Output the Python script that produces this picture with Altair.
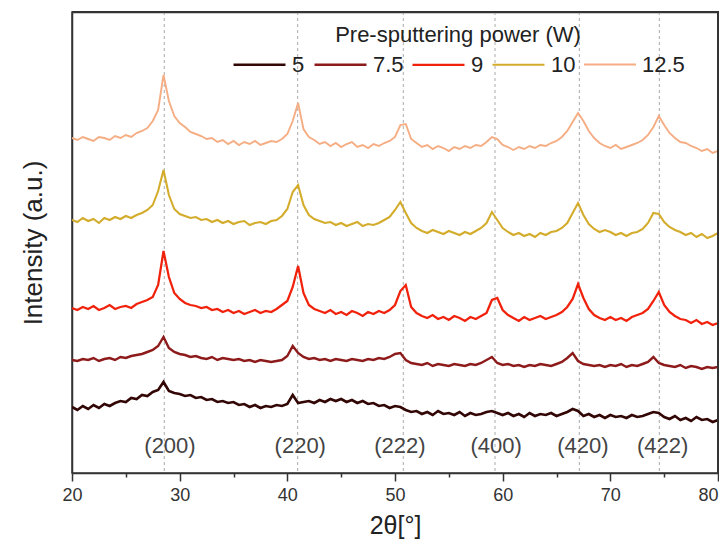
import altair as alt
import pandas as pd

# 2-theta sampling grid (degrees)
two_theta = [round(20 + 0.5 * i, 1) for i in range(121)]

powers = ["5", "7.5", "9", "10", "12.5"]
colors = ["#330606", "#8E1B1B", "#F0220C", "#D4AC2C", "#F5AD84"]
stroke_widths = [2.6, 1.9, 1.9, 1.9, 1.9]

int_5 = [
    66, 63, 67, 64, 68, 65, 69, 67, 70, 72,
    71, 75, 74, 78, 77, 81, 83, 91, 82, 80,
    79, 77, 78, 75, 76, 73, 74, 71, 72, 70,
    71, 68, 69, 66, 68, 65, 67, 66, 68, 67,
    69, 78, 70, 71, 72, 70, 73, 71, 74, 72,
    74, 71, 73, 70, 72, 69, 70, 67, 68, 65,
    67, 66, 63, 61, 62, 59, 61, 58, 62, 59,
    60, 58, 61, 57, 60, 58, 59, 61, 62, 60,
    58, 60, 57, 59, 56, 60, 57, 59, 58, 60,
    57, 59, 61, 64, 62, 57, 59, 56, 58, 55,
    58, 56, 57, 55, 58, 56, 57, 59, 61, 60,
    56, 54, 57, 53, 55, 52, 56, 53, 54, 51,
    53,
]
int_7_5 = [
    113, 112, 114, 113, 115, 112, 114, 115, 113, 116,
    115, 117, 118, 119, 121, 123, 127, 136, 125, 121,
    119, 118, 116, 117, 115, 114, 116, 113, 115, 114,
    113, 114, 112, 113, 111, 113, 112, 111, 112, 113,
    117, 127, 120, 116, 114, 115, 113, 114, 112, 114,
    113, 112, 114, 113, 112, 114, 113, 115, 114, 116,
    119, 120, 113, 110, 109, 108, 110, 107, 109, 108,
    107, 109, 108, 107, 109, 108, 110, 113, 116, 110,
    108, 109, 107, 108, 106, 108, 107, 109, 108, 107,
    109, 111, 115, 120, 112, 109, 108, 107, 108, 106,
    108, 107, 109, 106, 108, 107, 109, 111, 116, 110,
    108, 107, 106, 108, 105, 107, 106, 104, 106, 105,
    106,
]
int_9 = [
    165, 163, 166, 164, 167, 163, 165, 168, 164, 166,
    167, 165, 169, 171, 173, 176, 188, 222, 196, 180,
    174, 170, 168, 167, 165, 166, 163, 164, 161, 163,
    160, 162, 159, 161, 163, 160, 162, 161, 164, 168,
    172, 186, 207, 180, 168, 164, 162, 160, 163, 159,
    161, 158, 162, 160, 157, 161, 159, 162, 160, 163,
    168, 182, 188, 166, 160, 157, 155, 158, 154, 156,
    153, 157, 155, 152, 156, 154, 157, 160, 173, 175,
    163, 158, 155, 152, 156, 153, 155, 157, 154, 156,
    158, 161, 166, 174, 189, 175, 164, 158, 155, 153,
    156, 153, 155, 152, 156, 158, 160, 164, 172, 181,
    168, 161, 157, 154, 153, 150, 153, 149, 151, 148,
    150,
]
int_10 = [
    253, 251, 255, 252, 254, 250, 255, 253, 256, 254,
    257, 255, 258, 260, 263, 268, 282, 303, 278, 264,
    259, 257, 255, 256, 253, 254, 251, 253, 250, 252,
    249, 251, 252, 248, 250, 251, 249, 252, 253, 257,
    264, 281, 288, 268, 258, 254, 252, 250, 251, 248,
    250, 247, 249, 251, 247, 249, 248, 250, 253, 256,
    263, 271, 260, 250, 245, 242, 240, 243, 241, 239,
    242, 240, 238, 241, 239, 242, 245, 250, 261, 253,
    245, 241, 238, 240, 237, 239, 236, 240, 238, 241,
    242, 245, 250, 260, 270, 258, 249, 244, 241, 243,
    241, 238, 240, 237, 240, 241, 244, 250, 260, 259,
    251, 246, 243, 241, 238, 240, 236, 239, 235, 237,
    240,
]
int_12_5 = [
    335, 333, 336, 334, 332, 336, 335, 333, 337, 335,
    338, 336, 340, 342, 345, 352, 363, 398, 372, 357,
    350, 346, 341, 339, 337, 334, 335, 331, 333, 329,
    332, 328, 331, 329, 332, 328, 330, 332, 331, 334,
    339, 352, 370, 344, 336, 333, 329, 331, 327, 330,
    326, 329, 331, 326, 328, 325, 329, 327, 330, 332,
    336, 348, 349, 334, 330, 326, 328, 324, 327, 325,
    322, 326, 324, 327, 325, 328, 327, 331, 336, 334,
    328, 326, 323, 326, 324, 327, 325, 328, 327, 330,
    332, 336, 342, 351, 360, 352, 342, 335, 330, 327,
    325, 328, 324, 326, 328, 330, 333, 338, 346, 357,
    348, 340, 335, 331, 330, 327, 325, 322, 324, 320,
    322,
]

peak_positions = [28.57, 40.96, 50.77, 59.29, 67.12, 74.55]
hkl_labels = ["(200)", "(220)", "(222)", "(400)", "(420)", "(422)"]
hkl_label_x = [29.1, 41.2, 50.45, 59.4, 67.45, 74.85]
major_ticks = [20, 30, 40, 50, 60, 70, 80]
minor_ticks = [25, 35, 45, 55, 65, 75]
x_range = [20, 80]

series = {"5": int_5, "7.5": int_7_5, "9": int_9, "10": int_10, "12.5": int_12_5}
rows = []
for p in powers:
    for t, v in zip(two_theta, series[p]):
        rows.append({"theta": t, "intensity": v, "power": p, "sample": p})
df = pd.DataFrame(rows)

peaks_df = pd.DataFrame({"theta": peak_positions})
labels_df = pd.DataFrame({"theta": hkl_label_x, "label": hkl_labels})
minor_df = pd.DataFrame({"theta": minor_ticks})
edge_df = pd.DataFrame({"theta": [x_range[1]]})

FONT = "Liberation Sans"
W, H = 646, 461

x_scale = alt.Scale(domain=x_range, nice=False, zero=False)
y_scale = alt.Scale(domain=[0, H], nice=False, zero=False)

x_main = alt.X(
    "theta:Q",
    scale=x_scale,
    axis=alt.Axis(
        orient="bottom", values=major_ticks, title="2θ[°]", grid=False,
        tickSize=8, tickWidth=1.5, tickColor="#333", domainColor="#333",
        domainWidth=1.5, labelFontSize=18, labelColor="#333", labelPadding=5,
        labelFont=FONT,
        labelAlign={"condition": {"test": "datum.value >= 80", "value": "right"},
                    "value": "center"},
        titleFontSize=25, titleFontWeight="normal", titleColor="#222",
        titleFont=FONT, titlePadding=9, labelFlush=False,
    ),
)
x_plain = alt.X("theta:Q", scale=x_scale, axis=None)

lines = alt.Chart(df).mark_line(clip=True).encode(
    x=x_main,
    y=alt.Y(
        "intensity:Q",
        scale=y_scale,
        axis=alt.Axis(
            orient="left", title="Intensity (a.u.)", labels=False, ticks=False,
            grid=False, domainColor="#333", domainWidth=1.5, titleFontSize=26,
            titleFontWeight="normal", titleColor="#222", titleFont=FONT,
            titlePadding=26,
        ),
    ),
    color=alt.Color(
        "power:N",
        scale=alt.Scale(domain=powers, range=colors),
        sort=powers,
        legend=alt.Legend(
            title="Pre-sputtering power (W)", orient="none", legendX=160,
            legendY=13, direction="horizontal", symbolType="stroke",
            symbolSize=2700, symbolStrokeWidth=2, labelFontSize=22,
            labelFont=FONT, labelColor="#222", titleFontSize=22,
            titleFont=FONT, titleColor="#222", titleFontWeight="normal",
            titleAnchor="middle", labelOffset=5, columnPadding=4,
            padding=0, titlePadding=-10, titleLimit=600,
        ),
    ),
    strokeWidth=alt.StrokeWidth(
        "sample:N",
        scale=alt.Scale(domain=powers, range=stroke_widths),
        legend=None,
    ),
)

# invisible layer that carries the top and right frame lines (axis domains)
frame = alt.Chart(df).mark_line(strokeOpacity=0).encode(
    x=alt.X("theta:Q", scale=x_scale, axis=alt.Axis(
        orient="top", labels=False, ticks=False, grid=False, title=None,
        domainColor="#333", domainWidth=1.5)),
    y=alt.Y("intensity:Q", scale=y_scale, axis=alt.Axis(
        orient="right", labels=False, ticks=False, grid=False, title=None,
        domainColor="#333", domainWidth=1.5)),
    detail="power:N",
)

# minor ticks on the bottom axis
minor = alt.Chart(minor_df).mark_rule(strokeOpacity=0).encode(
    x=alt.X("theta:Q", scale=x_scale, axis=alt.Axis(
        orient="bottom", values=minor_ticks, labels=False, tickSize=4,
        tickWidth=1.5, tickColor="#333", domain=False, grid=False, title=None)),
    y=alt.value(0), y2=alt.value(1),
)

rules = alt.Chart(peaks_df).mark_rule(
    color="#AAAAAA", strokeDash=[3, 3], strokeWidth=1
).encode(x=x_plain, y=alt.value(0), y2=alt.value(H))

texts = alt.Chart(labels_df).mark_text(
    fontSize=22, font=FONT, color="#444", baseline="middle", align="center"
).encode(x=x_plain, y=alt.value(434), text="label:N")

# thin filled bars along the top and right edges of the plot box
top_edge = alt.Chart(edge_df).mark_rect(fill="#333333", strokeWidth=0).encode(
    x=alt.value(0), x2=alt.value(W), y=alt.value(-1), y2=alt.value(1)
)
right_edge = alt.Chart(edge_df).mark_rect(fill="#333333", strokeWidth=0).encode(
    x=alt.value(W - 1), x2=alt.value(W + 1), y=alt.value(-1), y2=alt.value(H)
)

chart = alt.layer(rules, lines, frame, minor, texts, top_edge, right_edge).resolve_axis(
    x="independent", y="independent"
).properties(
    width=W, height=H,
    autosize=alt.AutoSizeParams(type="none"),
    padding={"left": 64, "top": 4, "right": 1, "bottom": 70},
).configure(
    font=FONT,
    view=alt.ViewConfig(stroke="#333", strokeWidth=1.5),
)

chart.save("out.html", embed_options={"renderer": "svg", "actions": False})
